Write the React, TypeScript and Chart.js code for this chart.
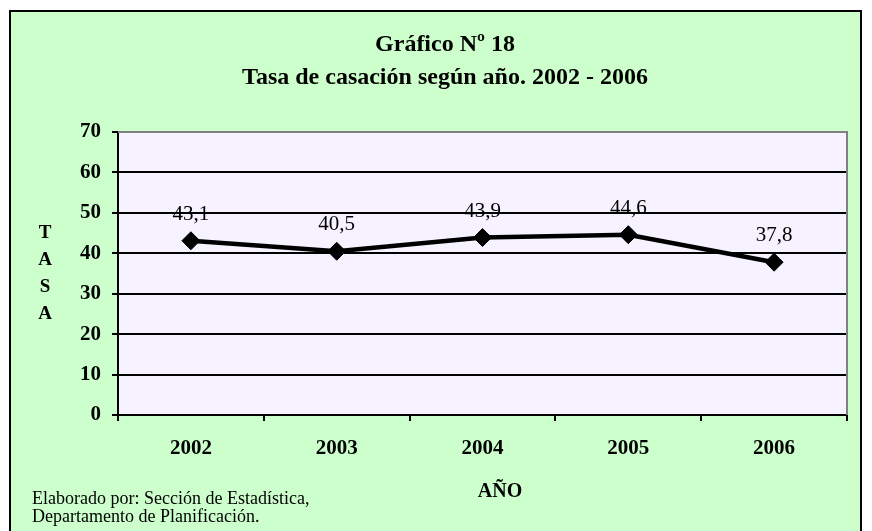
import React, { useEffect, useRef } from "react";
import { Chart, registerables } from "chart.js";

Chart.register(...registerables);

const titleLines = ["Gráfico Nº 18", "Tasa de casación según año. 2002 - 2006"];
const years = ["2002", "2003", "2004", "2005", "2006"];
const tasa = [43.1, 40.5, 43.9, 44.6, 37.8];
const yMin = 0;
const yMax = 70;
const yStep = 10;
const yAxisTitle = ["T", "A", "S", "A"];
const xAxisTitle = "AÑO";
const footerLines = ["Elaborado por: Sección de Estadística,", "Departamento de Planificación."];

const SERIF = "'Liberation Serif', 'Times New Roman', serif";
const GREEN = "#CCFFCC";
const PLOT_BG = "#F6F2FF";

const fmt = (v: number) => v.toFixed(1).replace(".", ",");

const decorPlugin = {
  id: "decor",
  beforeDraw(chart: any) {
    const { ctx, chartArea } = chart;
    ctx.save();
    ctx.fillStyle = "#FFFFFF";
    ctx.fillRect(0, 0, chart.width, chart.height);
    ctx.fillStyle = GREEN;
    ctx.fillRect(10, 11, 851, 600);
    ctx.strokeStyle = "#000000";
    ctx.lineWidth = 2;
    ctx.strokeRect(10, 11, 851, 600);
    ctx.fillStyle = PLOT_BG;
    ctx.fillRect(chartArea.left, chartArea.top, chartArea.right - chartArea.left, chartArea.bottom - chartArea.top);
    ctx.restore();
  },
  afterDatasetsDraw(chart: any) {
    const { ctx, chartArea } = chart;
    ctx.save();
    ctx.strokeStyle = "#808080";
    ctx.lineWidth = 2;
    ctx.beginPath();
    ctx.moveTo(chartArea.left, chartArea.top);
    ctx.lineTo(chartArea.right, chartArea.top);
    ctx.lineTo(chartArea.right, chartArea.bottom);
    ctx.stroke();

    const meta = chart.getDatasetMeta(0);
    ctx.fillStyle = "#000000";
    ctx.font = `21px ${SERIF}`;
    ctx.textAlign = "center";
    ctx.textBaseline = "alphabetic";
    meta.data.forEach((pt: any, i: number) => {
      ctx.fillText(fmt(tasa[i]), pt.x, pt.y - 21);
    });
    ctx.restore();
  },
  afterDraw(chart: any) {
    const { ctx } = chart;
    ctx.save();
    ctx.fillStyle = "#000000";
    ctx.textAlign = "center";
    ctx.textBaseline = "alphabetic";
    ctx.font = `bold 24px ${SERIF}`;
    ctx.fillText(titleLines[0], 445, 51);
    ctx.fillText(titleLines[1], 445, 84);

    ctx.font = `bold 20px ${SERIF}`;
    ctx.fillText(xAxisTitle, 500, 497);

    ctx.font = `bold 19px ${SERIF}`;
    yAxisTitle.forEach((ch, i) => {
      ctx.fillText(ch, 45, 238 + i * 27);
    });

    ctx.textAlign = "left";
    ctx.font = `18px ${SERIF}`;
    ctx.fillText(footerLines[0], 32, 504);
    ctx.fillText(footerLines[1], 32, 522);
    ctx.restore();
  },
};

export default function App() {
  const ref = useRef<HTMLCanvasElement>(null);
  useEffect(() => {
    if (!ref.current) return;
    const chart = new Chart(ref.current, {
      type: "line",
      data: {
        labels: years,
        datasets: [
          {
            data: tasa,
            borderColor: "#000000",
            backgroundColor: "#000000",
            borderWidth: 4.5,
            pointStyle: "rectRot",
            pointRadius: 9,
            pointBorderWidth: 1,
            pointBackgroundColor: "#000000",
            pointBorderColor: "#000000",
            tension: 0,
          },
        ],
      },
      options: {
        responsive: false,
        animation: false,
        devicePixelRatio: 1,
        layout: { padding: { left: 0, top: 132, right: 25, bottom: 0 } },
        plugins: {
          legend: { display: false },
          title: { display: false },
          tooltip: { enabled: false },
        },
        scales: {
          x: {
            type: "category",
            offset: true,
            afterFit: (s: any) => {
              s.height = 116;
            },
            grid: {
              offset: true,
              drawOnChartArea: false,
              drawTicks: true,
              tickLength: 6,
              color: "#000000",
              lineWidth: 2,
            },
            border: { display: true, color: "#000000", width: 2 },
            ticks: {
              color: "#000000",
              padding: 15,
              maxRotation: 0,
              font: { family: SERIF, size: 21, weight: "bold" },
            },
          },
          y: {
            min: yMin,
            max: yMax,
            afterFit: (s: any) => {
              s.width = 118;
            },
            grid: {
              drawTicks: true,
              tickLength: 6,
              color: "#000000",
              lineWidth: 2,
            },
            border: { display: true, color: "#000000", width: 2 },
            ticks: {
              stepSize: yStep,
              color: "#000000",
              padding: 11,
              font: { family: SERIF, size: 21, weight: "bold" },
            },
          },
        },
      },
      plugins: [decorPlugin],
    } as any);
    return () => chart.destroy();
  }, []);
  return (
    <div style={{ position: "fixed", left: 0, top: 0, width: 872, height: 531 }}>
      <canvas ref={ref} width={872} height={531} style={{ display: "block", width: 872, height: 531 }} />
    </div>
  );
}
